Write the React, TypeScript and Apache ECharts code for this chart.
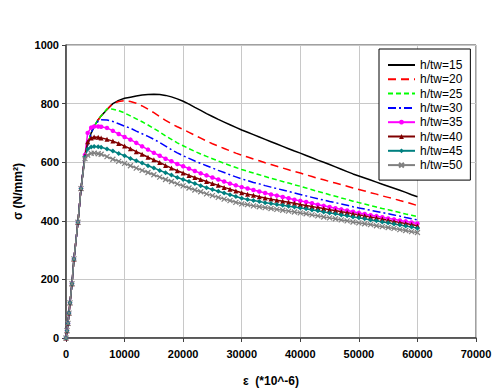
import React, { useEffect, useRef } from "react";
import * as echarts from "echarts";

const STRAIN = [0, 170, 340, 510, 680, 1020, 1360, 2040, 2560, 3240, 3700, 4300, 4800, 5500,
  6000, 7000, 8000, 9000, 10000, 11000, 12000, 13000, 14000, 15000, 16000, 17000, 18000, 19000,
  20000, 21000, 22000, 23000, 24000, 25000, 26000, 27000, 28000, 29000, 30000, 31000, 32000,
  33000, 34000, 35000, 36000, 37000, 38000, 39000, 40000, 41000, 42000, 43000, 44000, 45000,
  46000, 47000, 48000, 49000, 50000, 51000, 52000, 53000, 54000, 55000, 56000, 57000, 58000,
  59000, 60000];

const ELASTIC = [0, 25, 50, 85, 120, 185, 270, 395, 510];

const S15 = [...ELASTIC, 625, 660, 700, 722, 745,
  758, 780, 800, 811, 818, 822, 826, 829, 831, 832, 831, 828, 823, 816,
  808, 798, 787, 777, 766, 756, 746, 737, 728, 719, 710, 702, 694,
  686, 678, 670, 662, 654, 646, 638, 631, 623, 615, 607, 600, 592,
  584, 576, 568, 560, 553, 546, 539, 532, 525, 518, 511, 504, 497,
  489, 482];

const S20 = [...ELASTIC, 625, 660, 700, 722, 745,
  758, 780, 800, 807, 810, 807, 801, 792, 781, 769, 756, 743, 731, 721,
  712, 702, 692, 682, 672, 663, 655, 647, 639, 631, 624, 618, 611,
  605, 598, 592, 586, 580, 574, 568, 563, 557, 551, 545, 540, 534,
  529, 523, 518, 512, 507, 502, 496, 491, 485, 480, 475, 469, 464,
  458, 452];

const S25 = [...ELASTIC, 625, 660, 700, 722, 745,
  758, 782, 781, 776, 768, 758, 748, 738, 727, 715, 703, 690, 678, 666,
  656, 646, 637, 628, 620, 612, 604, 596, 589, 582, 575, 569, 563,
  557, 551, 545, 540, 534, 529, 523, 518, 512, 506, 500, 495, 489,
  484, 478, 473, 467, 462, 457, 452, 447, 442, 438, 433, 428, 423,
  419, 414];

const S30 = [...ELASTIC, 625, 660, 700, 722, 740,
  745, 744, 739, 731, 723, 716, 706, 697, 688, 678, 667, 655, 643, 632,
  622, 613, 604, 596, 588, 580, 572, 565, 557, 550, 543, 537, 531,
  526, 520, 515, 510, 505, 500, 495, 490, 485, 480, 475, 471, 466,
  462, 457, 453, 448, 444, 440, 436, 432, 428, 424, 420, 416, 411,
  407, 403];

const S35 = [...ELASTIC, 625, 700, 718, 722, 722,
  721, 717, 707, 696, 686, 677, 666, 654, 643, 632, 622, 612, 603, 594,
  586, 578, 570, 562, 555, 548, 541, 534, 527, 521, 515, 510, 505,
  500, 495, 490, 486, 481, 477, 472, 468, 464, 460, 455, 451, 447,
  443, 439, 435, 431, 427, 423, 419, 416, 412, 408, 405, 401, 398,
  394, 391];

const S40 = [...ELASTIC, 622, 670, 683, 686, 685,
  683, 678, 672, 664, 655, 646, 636, 627, 617, 608, 599, 589, 580, 571,
  563, 555, 548, 541, 534, 527, 521, 514, 508, 502, 496, 491, 487,
  482, 478, 474, 470, 467, 463, 460, 456, 452, 449, 445, 442, 438,
  435, 431, 428, 424, 421, 417, 413, 410, 406, 402, 398, 394, 391,
  387, 383];

const S45 = [...ELASTIC, 618, 645, 652, 654, 653,
  651, 645, 638, 630, 622, 613, 605, 597, 588, 580, 572, 564, 556, 548,
  541, 534, 527, 520, 513, 507, 501, 495, 489, 483, 477, 473, 469,
  466, 462, 459, 456, 453, 450, 447, 444, 441, 437, 434, 430, 427,
  424, 420, 417, 413, 410, 407, 403, 400, 396, 393, 389, 386, 382,
  379, 375];

const S50 = [...ELASTIC, 612, 624, 630, 631, 629,
  627, 619, 610, 603, 596, 588, 580, 572, 565, 557, 549, 541, 534, 526,
  519, 512, 505, 499, 492, 486, 480, 474, 469, 463, 458, 455, 451,
  448, 445, 442, 439, 436, 433, 430, 427, 424, 420, 417, 413, 410,
  407, 403, 400, 396, 393, 390, 387, 383, 380, 377, 374, 370, 367,
  363, 360];

const NAMES = ["h/tw=15", "h/tw=20", "h/tw=25", "h/tw=30", "h/tw=35", "h/tw=40", "h/tw=45", "h/tw=50"];
const X_TICKS = [0, 10000, 20000, 30000, 40000, 50000, 60000, 70000];
const Y_TICKS = [0, 200, 400, 600, 800, 1000];

const pair = (ys: number[]) => STRAIN.map((x, i) => [x, ys[i]]);

export default function App() {
  const ref = useRef<HTMLDivElement>(null);
  useEffect(() => {
    if (!ref.current) return;
    const chart = echarts.init(ref.current, undefined, { renderer: "svg" });
    const font = "Arial, 'Liberation Sans', sans-serif";
    const lineS = (name: string, data: number[], color: string, type: any, width = 1.5) => ({
      name,
      type: "line",
      data: pair(data),
      showSymbol: false,
      symbol: "none",
      lineStyle: { color, type, width },
      itemStyle: { color },
      z: 2,
    });
    const markS = (name: string, data: number[], color: string, symbol: string, size: number) => ({
      name,
      type: "line",
      data: pair(data),
      symbol,
      symbolSize: size,
      showSymbol: true,
      lineStyle: { color, width: 1.5 },
      itemStyle: { color, borderColor: color, borderWidth: symbol.startsWith("path") ? 1.2 : 0 },
      z: 3,
    });
    chart.setOption({
      animation: false,
      textStyle: { fontFamily: font },
      grid: {
        left: 66, top: 45, right: 24, bottom: 53,
        show: true, borderColor: "#404040", borderWidth: 1,
      },
      xAxis: {
        type: "value",
        min: 0, max: 70000, interval: 10000,
        name: "ε  (*10^-6)",
        nameLocation: "middle",
        nameGap: 37,
        nameTextStyle: { fontWeight: "bold", fontSize: 12, color: "#000", fontFamily: font },
        axisLine: { show: true, lineStyle: { color: "#404040", width: 1.5 } },
        axisTick: { show: true, length: 4, lineStyle: { color: "#404040" } },
        axisLabel: {
          fontWeight: "bold", fontSize: 11, color: "#000", margin: 10, fontFamily: font,
          formatter: (v: number) => (X_TICKS.includes(v) ? String(v) : ""),
        },
        splitLine: { show: true, lineStyle: { color: "#c8c8c8", width: 1 } },
      },
      yAxis: {
        type: "value",
        min: 0, max: 1000, interval: 200,
        name: "σ (N/mm²)",
        nameLocation: "middle",
        nameGap: 40,
        nameRotate: 90,
        nameTextStyle: { fontWeight: "bold", fontSize: 12, color: "#000", fontFamily: font },
        axisLine: { show: true, lineStyle: { color: "#404040", width: 1.5 } },
        axisTick: { show: true, length: 4, lineStyle: { color: "#404040" } },
        axisLabel: {
          fontWeight: "bold", fontSize: 11, color: "#000", margin: 7, fontFamily: font,
          formatter: (v: number) => (Y_TICKS.includes(v) ? String(v) : ""),
        },
        splitLine: { show: true, lineStyle: { color: "#c8c8c8", width: 1 } },
      },
      legend: {
        show: true,
        orient: "vertical",
        left: 379,
        top: 49,
        width: 90,
        padding: [10, 8, 9, 8],
        itemWidth: 27,
        itemHeight: 6,
        itemGap: 2.3,
        borderColor: "#000",
        borderWidth: 1,
        backgroundColor: "#fff",
        textStyle: { fontSize: 12, color: "#000", fontFamily: font },
        data: NAMES.map((n, i) => (i < 4 ? { name: n, itemStyle: { opacity: 0 } } : { name: n })),
      },
      series: [
        lineS(NAMES[0], S15, "#000000", "solid"),
        lineS(NAMES[1], S20, "#ff0000", [8, 5]),
        lineS(NAMES[2], S25, "#00ff00", [5, 3]),
        lineS(NAMES[3], S30, "#0000ff", [8, 3, 2, 3]),
        markS(NAMES[4], S35, "#ff00ff", "circle", 4.5),
        markS(NAMES[5], S40, "#800000", "triangle", 5),
        markS(NAMES[6], S45, "#008080", "diamond", 5),
        markS(NAMES[7], S50, "#808080", "path://M0,0L10,10M10,0L0,10", 5),
      ],
    });
    return () => chart.dispose();
  }, []);
  return (
    <div
      ref={ref}
      style={{ position: "fixed", left: 0, top: 0, width: 500, height: 392, background: "#fff" }}
    />
  );
}
